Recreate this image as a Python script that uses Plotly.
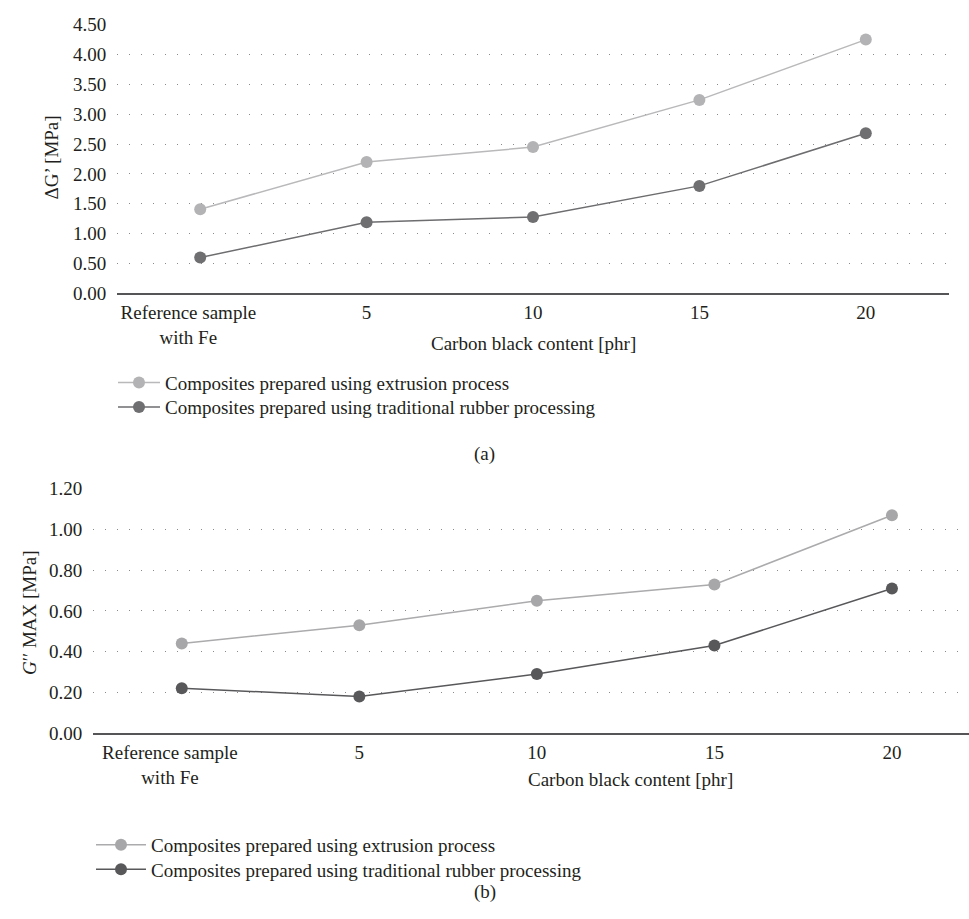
import plotly.graph_objects as go

NB = "\u00a0" * 5
categories = ["Reference sample" + NB + "<br>with Fe" + NB, "5", "10", "15", "20"]
top_extrusion = [1.41, 2.20, 2.45, 3.24, 4.25]
top_traditional = [0.60, 1.19, 1.28, 1.80, 2.68]
bot_extrusion = [0.44, 0.53, 0.65, 0.73, 1.07]
bot_traditional = [0.22, 0.18, 0.29, 0.43, 0.71]
name_ext = "Composites prepared using extrusion process"
name_trad = "Composites prepared using traditional rubber processing"
top_yticks = [0, 0.5, 1, 1.5, 2, 2.5, 3, 3.5, 4, 4.5]
bot_yticks = [0, 0.2, 0.4, 0.6, 0.8, 1.0, 1.2]

W, H = 969, 919
FONT = "Liberation Serif"
FS = 19
TXT = "#231f20"

def fx(px):
    return px / W

def fy(py):
    return 1 - py / H

fig = go.Figure()
x = list(range(len(categories)))

traces = [
    (top_extrusion, name_ext, "#b9b9bb", "#b3b3b5", "x", "y", "legend"),
    (top_traditional, name_trad, "#6d6d70", "#6f6f72", "x", "y", "legend2"),
    (bot_extrusion, name_ext, "#ababad", "#a7a7a9", "x2", "y2", "legend3"),
    (bot_traditional, name_trad, "#58585b", "#58585b", "x2", "y2", "legend4"),
]
for vals, nm, lc, mc, xa, ya, lg in traces:
    fig.add_trace(go.Scatter(x=x, y=vals, name=nm, mode="lines+markers",
                             line=dict(color=lc, width=1.5),
                             marker=dict(color=mc, size=12),
                             xaxis=xa, yaxis=ya, legend=lg))

common_x = dict(tickmode="array", tickvals=x, ticktext=categories, showgrid=False,
                zeroline=False, showline=True, linecolor="#555557", linewidth=2,
                ticks="outside", ticklen=1, tickcolor="rgba(0,0,0,0)",
                tickfont=dict(family=FONT, size=FS, color=TXT), fixedrange=True)
common_y = dict(showgrid=True, gridcolor="#8a8a8c", gridwidth=1, griddash="1px,11px",
                zeroline=False, showline=False, tickformat=".2f",
                ticks="outside", ticklen=6, tickcolor="rgba(0,0,0,0)",
                tickfont=dict(family=FONT, size=FS, color=TXT), fixedrange=True)

def leg(px, py, iw):
    return dict(x=fx(px), y=fy(py), xanchor="left", yanchor="top", itemwidth=iw,
                font=dict(family=FONT, size=FS, color=TXT), bgcolor="rgba(0,0,0,0)",
                tracegroupgap=0)

fig.update_layout(
    width=W, height=H,
    margin=dict(l=0, r=0, t=0, b=0),
    paper_bgcolor="white", plot_bgcolor="white",
    font=dict(family=FONT, size=FS, color=TXT),
    xaxis=dict(domain=[fx(117), fx(949)], range=[-0.5, 4.5], anchor="y", **common_x),
    yaxis=dict(domain=[fy(290), fy(15)], range=[0, 4.5], tickvals=top_yticks, anchor="x", **common_y),
    xaxis2=dict(domain=[fx(93), 1.0], range=[-0.5, 4.434], anchor="y2", **common_x),
    yaxis2=dict(domain=[fy(740), fy(490)], range=[0, 1.2], tickvals=bot_yticks, anchor="x2", **common_y),
    legend=leg(113, 362, 42),
    legend2=leg(113, 387, 42),
    legend3=leg(91, 835, 50),
    legend4=leg(91, 860, 50),
    showlegend=True,
)

annos = [
    dict(text="Carbon black content [phr]", x=fx(630), y=fy(788)),
    dict(text="Carbon black content [phr]", x=fx(533), y=fy(341)),
    dict(text="(a)", x=fx(485), y=fy(454)),
    dict(text="(b)", x=fx(485), y=fy(903)),
    dict(text="ΔG’ [MPa]", x=fx(52), y=fy(151), textangle=-90),
    dict(text="<i>G</i>′′ MAX [MPa]", x=fx(30), y=fy(617), textangle=-90),
]
for a in annos:
    fig.add_annotation(xref="paper", yref="paper", showarrow=False,
                       xanchor="center", yanchor="middle",
                       font=dict(family=FONT, size=FS, color=TXT), **a)

fig.write_html("out.html")
